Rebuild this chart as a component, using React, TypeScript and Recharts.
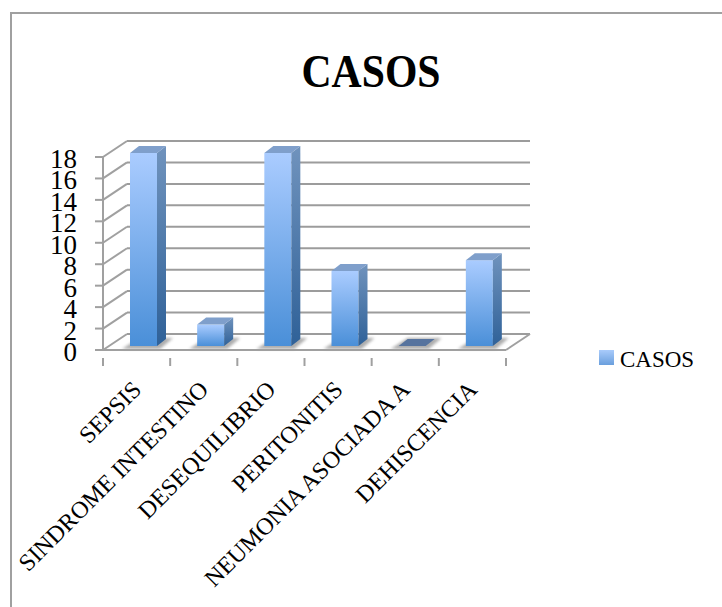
import React from 'react';
import { BarChart, Bar, XAxis, YAxis, CartesianGrid, Legend } from 'recharts';

const categories = ['SEPSIS', 'SINDROME INTESTINO', 'DESEQUILIBRIO', 'PERITONITIS', 'NEUMONIA ASOCIADA A', 'DEHISCENCIA'];
const casos = [18, 2, 18, 7, 0, 8];
const yTicks = [0, 2, 4, 6, 8, 10, 12, 14, 16, 18];

const data = categories.map((name, i) => ({ name, casos: casos[i] }));

const FONT = '"Liberation Serif", serif';
const AXIS = '#a0a0a0';

// The bars stand mid-way through the floor: front edge and back wall are offset from the plot plane
const FRONT = { dx: -7, dy: 4 };
const BACK = { dx: 17, dy: -12 };
const DEPTH = { dx: 9, dy: -7 };

const Bar3D = ({ x, y, width, height }: any) => {
  const r = x + width;
  const b = y + height;
  const d = DEPTH;
  const shadow = `${x - 8},${b + 3} ${r + 3},${b + 3} ${r + d.dx + 7},${b + d.dy - 1} ${x + d.dx},${b + d.dy - 1}`;
  if (height < 1) {
    return (
      <g>
        <polygon points={shadow} fill="#8a8a8a" opacity={0.7} filter="url(#soft)" />
        <polygon points={`${x},${b} ${r},${b} ${r + d.dx},${b + d.dy} ${x + d.dx},${b + d.dy}`} fill="#56739e" />
      </g>
    );
  }
  return (
    <g>
      <polygon points={shadow} fill="#8a8a8a" opacity={0.7} filter="url(#soft)" />
      <rect x={x} y={y} width={width} height={height} fill="url(#barFront)" />
      <polygon points={`${r},${y} ${r + d.dx},${y + d.dy} ${r + d.dx},${b + d.dy} ${r},${b}`} fill="url(#barSide)" />
      <polygon points={`${x},${y} ${r},${y} ${r + d.dx},${y + d.dy} ${x + d.dx},${y + d.dy}`} fill="#7f9fcb" />
    </g>
  );
};

const YTick = ({ y, payload, plotX, plotW }: any) => {
  const fx = plotX + FRONT.dx;
  const fy = y + FRONT.dy;
  return (
    <g>
      <line x1={fx - 8} y1={fy} x2={fx} y2={fy} stroke={AXIS} strokeWidth={2} />
      <line x1={fx} y1={fy} x2={plotX + BACK.dx} y2={y + BACK.dy} stroke={AXIS} strokeWidth={2} />
      {payload.value === 0 && (
        <>
          {/* front edge of the floor and its far corner */}
          <line x1={fx} y1={fy} x2={fx + plotW} y2={fy} stroke={AXIS} strokeWidth={2} />
          <line x1={fx + plotW} y1={fy} x2={plotX + plotW + BACK.dx} y2={y + BACK.dy} stroke={AXIS} strokeWidth={2} />
        </>
      )}
      {payload.value === 18 && <line x1={fx} y1={fy} x2={fx} y2={fy + 192} stroke={AXIS} strokeWidth={2} />}
      <text x={fx - 26} y={fy + 11} textAnchor="end" fontFamily={FONT} fontSize={27} fill="#000">
        {payload.value}
      </text>
    </g>
  );
};

const XTick = ({ x, y, payload, index, cell }: any) => {
  const left = x - cell / 2 + FRONT.dx;
  const ey = y + FRONT.dy;
  const tx = x + FRONT.dx + 6;
  const ty = ey + 33;
  return (
    <g>
      <line x1={left} y1={ey} x2={left} y2={ey + 8} stroke={AXIS} strokeWidth={2} />
      {index === categories.length - 1 && (
        <line x1={left + cell} y1={ey} x2={left + cell} y2={ey + 8} stroke={AXIS} strokeWidth={2} />
      )}
      <text
        x={tx}
        y={ty}
        textAnchor="end"
        fontFamily={FONT}
        fontSize={24}
        fill="#000"
        transform={`rotate(-45 ${tx} ${ty})`}
      >
        {payload.value}
      </text>
    </g>
  );
};

const GridLine = ({ x1, x2, y1 }: any) => (
  <line x1={x1 + BACK.dx} y1={y1 + BACK.dy} x2={x2 + BACK.dx} y2={y1 + BACK.dy} stroke="#9c9c9c" strokeWidth={2} />
);

const LegendBox = () => (
  <div style={{ display: 'flex', alignItems: 'center', fontFamily: FONT, fontSize: 23, color: '#000' }}>
    <span
      style={{
        width: 15,
        height: 15,
        marginRight: 6,
        transform: 'translateY(-3px)',
        background: 'linear-gradient(#a9cbfb, #6a9fdd)',
      }}
    />
    CASOS
  </div>
);

const PLOT_LEFT = 110;
const PLOT_WIDTH = 403;
const CELL = PLOT_WIDTH / categories.length;

export default function App() {
  return (
    <div style={{ position: 'absolute', left: 0, top: 0, width: 722, height: 607, background: '#fff', overflow: 'hidden' }}>
      <BarChart
        width={722}
        height={607}
        data={data}
        barCategoryGap={0}
        margin={{ top: 153, right: 109, bottom: 61, left: 70 }}
      >
        <defs>
          <linearGradient id="barFront" x1="0" y1="0" x2="0" y2="1">
            <stop offset="0%" stopColor="#aaccff" />
            <stop offset="100%" stopColor="#4a8fd8" />
          </linearGradient>
          <linearGradient id="barSide" x1="0" y1="0" x2="0" y2="1">
            <stop offset="0%" stopColor="#7093bd" />
            <stop offset="100%" stopColor="#2f6198" />
          </linearGradient>
          <filter id="soft" x="-30%" y="-80%" width="160%" height="260%">
            <feGaussianBlur stdDeviation="1.5" />
          </filter>
        </defs>
        {/* chart frame runs off the right and bottom of the page */}
        <rect x={11} y={13} width={730} height={610} fill="none" stroke="#a0a0a0" strokeWidth={2} />
        <text
          x={371}
          y={87}
          textAnchor="middle"
          fontFamily={FONT}
          fontSize={47}
          fontWeight="bold"
          fill="#000"
          textLength={139}
          lengthAdjust="spacingAndGlyphs"
        >
          CASOS
        </text>
        <CartesianGrid vertical={false} horizontal={(p: any) => <GridLine {...p} />} />
        <XAxis
          dataKey="name"
          interval={0}
          height={200}
          axisLine={false}
          tickLine={false}
          tick={(p: any) => <XTick {...p} cell={CELL} />}
        />
        <YAxis
          width={40}
          domain={[0, 18]}
          ticks={yTicks}
          interval={0}
          axisLine={false}
          tickLine={false}
          tick={(p: any) => <YTick {...p} plotX={PLOT_LEFT} plotW={PLOT_WIDTH} />}
        />
        <Bar dataKey="casos" name="CASOS" barSize={27} isAnimationActive={false} shape={(p: any) => <Bar3D {...p} />} />
        <Legend
          layout="vertical"
          align="right"
          verticalAlign="top"
          wrapperStyle={{ position: 'absolute', left: 599, top: 347, width: 100 }}
          content={() => <LegendBox />}
        />
      </BarChart>
    </div>
  );
}
